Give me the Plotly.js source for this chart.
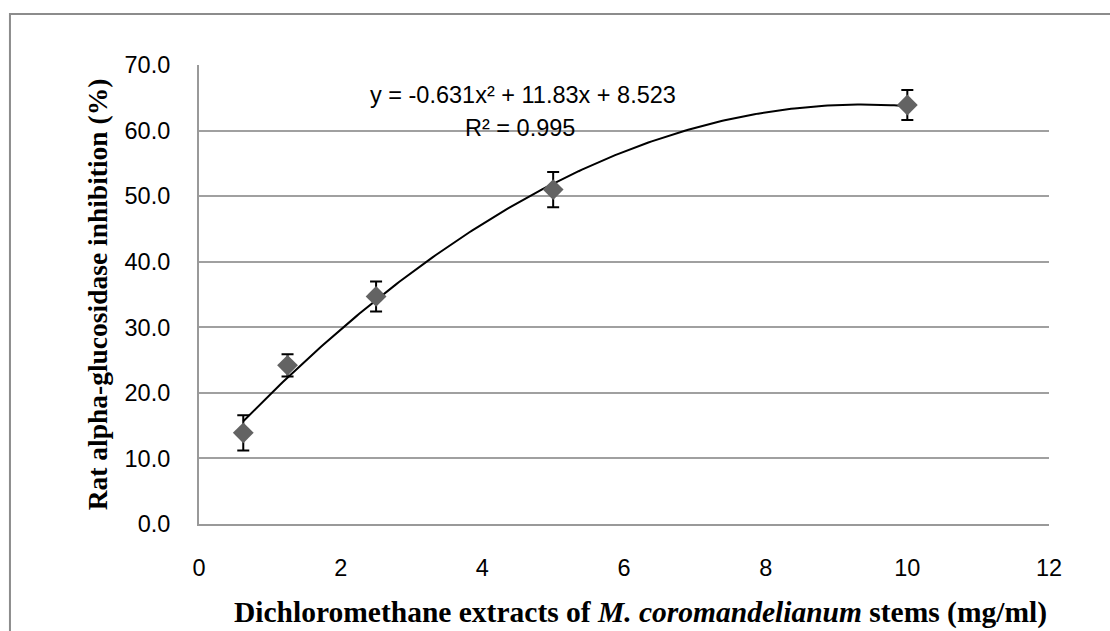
<!DOCTYPE html>
<html>
<head>
<meta charset="utf-8">
<script src="https://cdn.plot.ly/plotly-3.0.1.min.js"></script>
<style>
html,body{margin:0;padding:0;background:#fff;}
#chart{width:1110px;height:631px;}
</style>
</head>
<body>
<div id="chart"></div>
<script>
// Data
const concentrations = [0.625, 1.25, 2.5, 5, 10];
const inhibition = [13.9, 24.2, 34.7, 51.0, 63.9];
const errors = [2.7, 1.7, 2.3, 2.7, 2.3];
// Displayed polynomial trendline coefficients: y = a x^2 + b x + c
const trendCoefs = [-0.631, 11.83, 8.523];
const trendLabel = 'y = -0.631x² + 11.83x + 8.523';
const r2Label = 'R² = 0.995';
const yTickVals = [0, 10, 20, 30, 40, 50, 60, 70];
const yTickText = ['0.0', '10.0', '20.0', '30.0', '40.0', '50.0', '60.0', '70.0'];
const xTickVals = [0, 2, 4, 6, 8, 10, 12];

// Trendline evaluated along the data range (as the spreadsheet does)
const tx = [], ty = [];
const x0 = concentrations[0], x1 = concentrations[concentrations.length - 1];
for (let i = 0; i <= 200; i++) {
  const x = x0 + (x1 - x0) * i / 200;
  tx.push(x);
  ty.push(trendCoefs[0] * x * x + trendCoefs[1] * x + trendCoefs[2]);
}

const traces = [
  {
    x: tx, y: ty, type: 'scatter', mode: 'lines',
    line: {color: '#000', width: 2}, hoverinfo: 'skip', showlegend: false
  },
  {
    x: concentrations, y: inhibition, type: 'scatter', mode: 'markers',
    marker: {symbol: 'diamond', size: 16, color: '#636363', line: {width: 0}},
    error_y: {type: 'data', array: errors, visible: true, color: '#000', thickness: 2, width: 6},
    showlegend: false
  }
];

const tickFont = {family: '"Liberation Sans", Arial, sans-serif', size: 23.5, color: '#000'};
const xTitleFont = {family: '"Liberation Serif", "Times New Roman", serif', size: 29.5, color: '#000'};
const yTitleFont = {family: '"Liberation Serif", "Times New Roman", serif', size: 27.5, color: '#000'};

const layout = {
  width: 1110, height: 631,
  margin: {l: 199, r: 61, t: 65, b: 107},
  paper_bgcolor: '#fff', plot_bgcolor: '#fff',
  showlegend: false,
  xaxis: {
    range: [0, 12], tickvals: xTickVals, ticktext: xTickVals.map(String),
    showgrid: false, zeroline: false, showline: true, linecolor: '#999', linewidth: 2,
    ticks: '', tickfont: tickFont, ticklabelstandoff: 22
  },
  yaxis: {
    range: [0, 70], tickvals: yTickVals, ticktext: yTickText,
    showgrid: true, gridcolor: '#a0a0a0', gridwidth: 2,
    zeroline: false, showline: true, linecolor: '#999', linewidth: 2,
    ticks: '', tickfont: tickFont, ticklabelstandoff: 22
  },
  shapes: [
    {type: 'rect', xref: 'paper', yref: 'paper', x0: -0.2224, x1: 1.3, y0: -0.4, y1: 1.111,
     line: {color: '#8c8c8c', width: 2}, fillcolor: 'rgba(0,0,0,0)', layer: 'below'}
  ],
  annotations: [
    {xref: 'x', yref: 'y', x: 4.58, y: 65.4, text: trendLabel, showarrow: false,
     font: tickFont, xanchor: 'center', yanchor: 'middle'},
    {xref: 'x', yref: 'y', x: 4.53, y: 60.4, text: r2Label, showarrow: false,
     font: tickFont, xanchor: 'center', yanchor: 'middle'},
    {xref: 'paper', yref: 'paper', x: 0.519, y: -0.192, showarrow: false,
     text: '<b>Dichloromethane extracts of <i>M. coromandelianum</i> stems (mg/ml)</b>',
     font: xTitleFont, xanchor: 'center', yanchor: 'middle'},
    {xref: 'paper', yref: 'paper', x: -0.119, y: 0.5, showarrow: false, textangle: -90,
     text: '<b>Rat alpha-glucosidase inhibition (%)</b>',
     font: yTitleFont, xanchor: 'center', yanchor: 'middle'}
  ]
};

Plotly.newPlot('chart', traces, layout, {displayModeBar: false, staticPlot: true});
</script>
</body>
</html>
